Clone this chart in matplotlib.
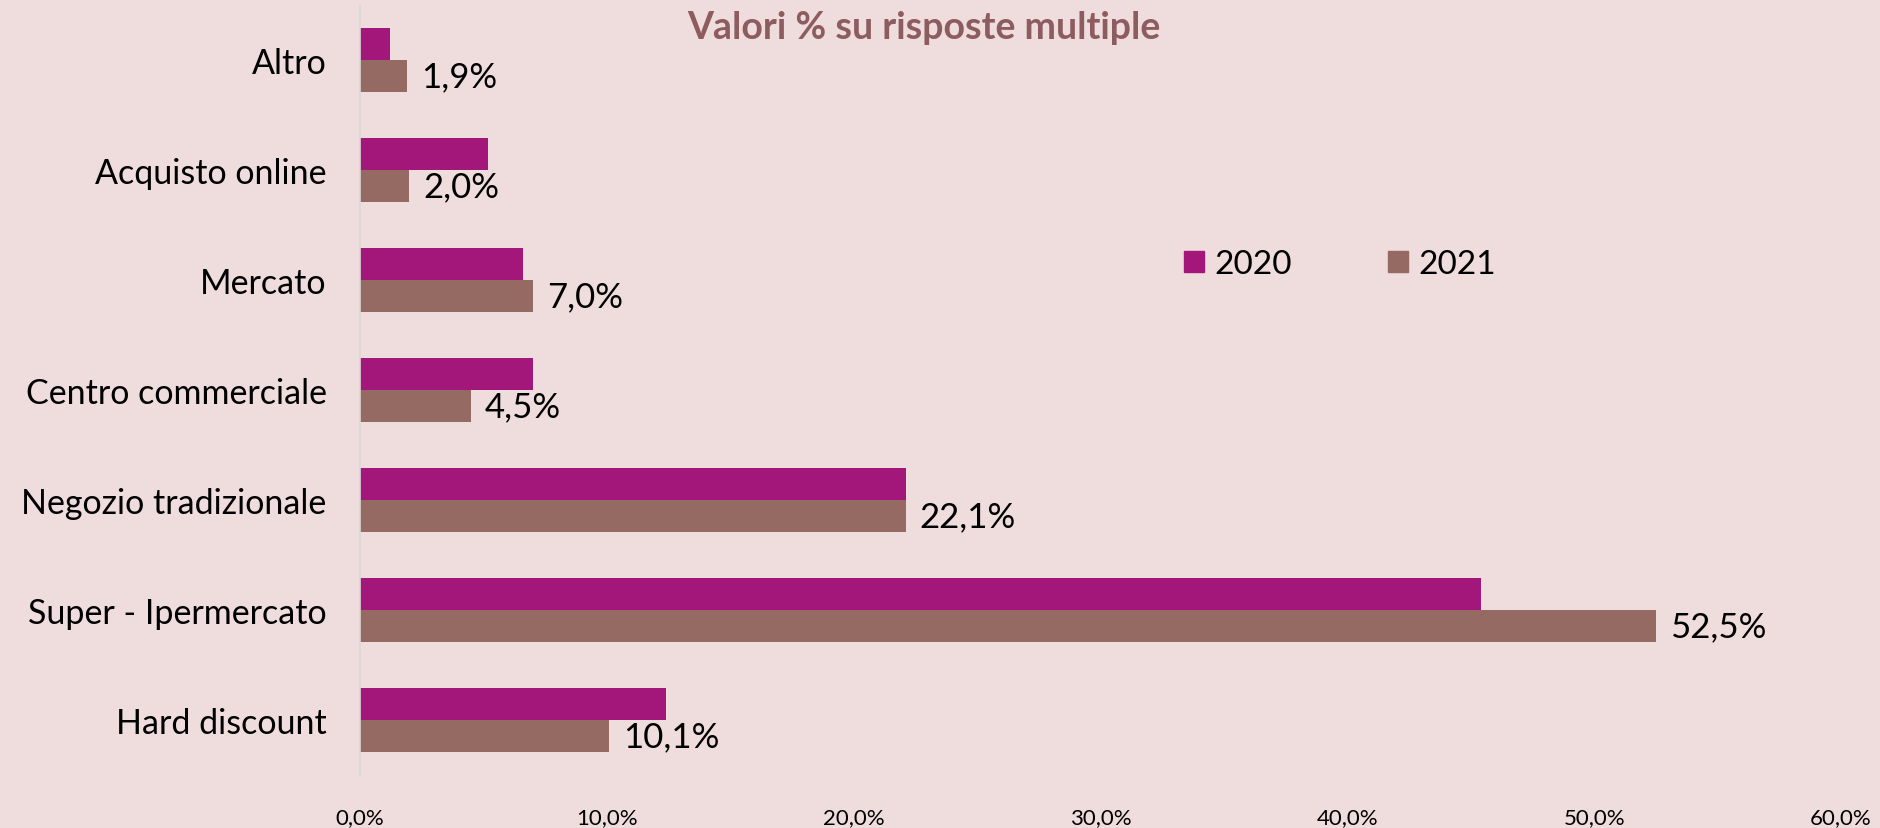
import numpy as np
import matplotlib
matplotlib.use("Agg")
import matplotlib.pyplot as plt
from matplotlib.patches import Patch

categories = ["Altro", "Acquisto online", "Mercato", "Centro commerciale",
              "Negozio tradizionale", "Super - Ipermercato", "Hard discount"]
values_2020 = [1.2, 5.2, 6.6, 7.0, 22.1, 45.4, 12.4]
values_2021 = [1.9, 2.0, 7.0, 4.5, 22.1, 52.5, 10.1]
xticks = [0, 10, 20, 30, 40, 50, 60]

bg = "#EFDCDC"
c2020 = "#A3177A"
c2021 = "#956A63"

plt.rcParams["font.family"] = ["Lato", "DejaVu Sans"]

fig = plt.figure(figsize=(18.81, 8.29), dpi=100, facecolor=bg)
ax = fig.add_axes([360 / 1881, 1 - 776 / 829, 1481 / 1881, 770 / 829])
ax.set_facecolor(bg)

y = np.arange(len(categories))[::-1]
h = 0.2864
ax.barh(y + h / 2, values_2020, height=h, color=c2020, label="2020")
ax.barh(y - h / 2, values_2021, height=h, color=c2021, label="2021")

# data labels only for 2021
for yi, v in zip(y, values_2021):
    ax.annotate(f"{v:.1f}%".replace(".", ","), (v, yi - h / 2),
                xytext=(14, 0), textcoords="offset pixels",
                va="center", ha="left", fontsize=25, color="black")

ax.set_xlim(0, 60)
ax.set_ylim(-0.5, len(categories) - 0.5)
ax.set_xticks(xticks)
ax.set_xticklabels([f"{t:.1f}%".replace(".", ",") for t in xticks], fontsize=16)
ax.set_yticks(y)
ax.set_yticklabels(categories, fontsize=24.5)
ax.tick_params(axis="x", length=0, pad=23)
ax.tick_params(axis="y", length=0, pad=24)
for s in ["top", "right", "bottom"]:
    ax.spines[s].set_visible(False)
ax.spines["left"].set_color("#D9D9D9")
ax.spines["left"].set_linewidth(1.2)

fig.text(924 / 1881, 1 - 28 / 829, "Valori % su risposte multiple",
         ha="center", va="center", fontsize=27, fontweight="bold", color="#8C5C5F")

handles = [Patch(color=c2020), Patch(color=c2021)]
fig.legend(handles, ["2020", "2021"], loc="center left",
           bbox_to_anchor=(1184 / 1881, 1 - 265 / 829), ncol=2, frameon=False,
           fontsize=24, handlelength=0.6, handleheight=0.6, handletextpad=0.3,
           columnspacing=2.9, borderpad=0, borderaxespad=0)

fig.savefig("out.png", dpi=100, facecolor=bg)
